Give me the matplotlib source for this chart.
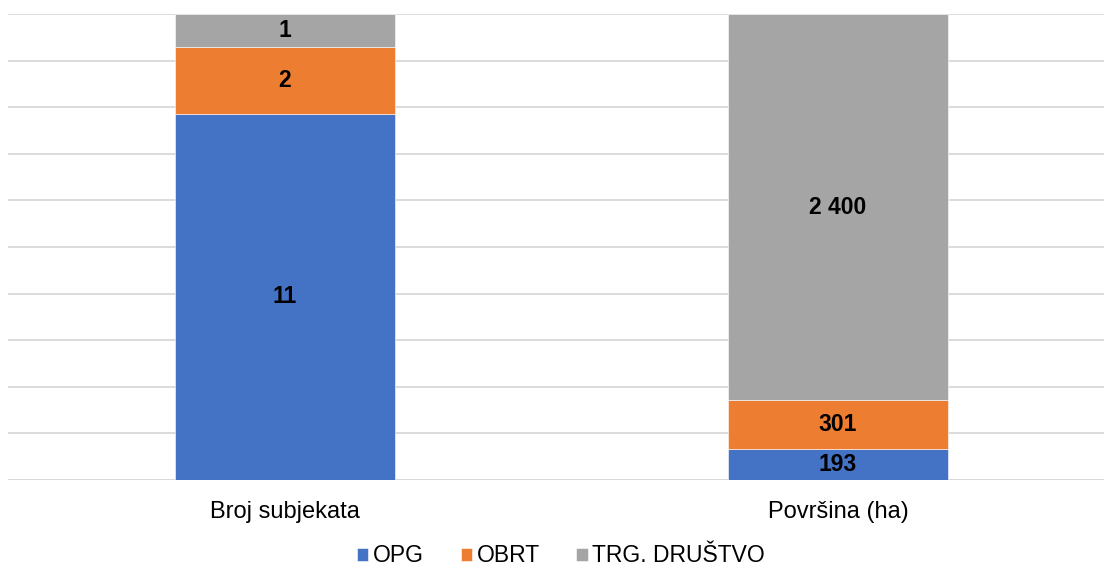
import matplotlib
matplotlib.use("Agg")
import matplotlib.pyplot as plt
import numpy as np

plt.rcParams['font.family'] = ['Liberation Sans', 'DejaVu Sans']

categories = ["Broj subjekata", "Površina (ha)"]
series_names = ["OPG", "OBRT", "TRG. DRUŠTVO"]
opg = [11, 193]
obrt = [2, 301]
trg = [1, 2400]
value_labels = [["11", "193"], ["2", "301"], ["1", "2 400"]]
colors = ["#4472C4", "#ED7D31", "#A5A5A5"]

data = np.array([opg, obrt, trg], dtype=float)
totals = data.sum(axis=0)
pct = data / totals * 100

fig = plt.figure(figsize=(11.04, 5.70), dpi=100)
ax = fig.add_axes([8/1104, 90/570, 1096/1104, 466/570])

x = np.arange(len(categories))
width = 0.398
bottom = np.zeros(len(categories))
for i, name in enumerate(series_names):
    bars = ax.bar(x, pct[i], width, bottom=bottom, color=colors[i], label=name,
                  edgecolor="white", linewidth=0.4, zorder=3)
    for j, b in enumerate(bars):
        ax.text(b.get_x() + b.get_width()/2, bottom[j] + pct[i][j]/2,
                value_labels[i][j], ha="center", va="center",
                fontsize=16.5, fontweight="bold", color="black", zorder=4)
    bottom += pct[i]

ax.set_ylim(0, 100)
ax.set_xlim(-0.501, 1.481)
ax.set_yticks(np.arange(0, 101, 10))
ax.set_yticklabels([])
ax.tick_params(axis="y", length=0)
ax.tick_params(axis="x", length=0, pad=15, labelsize=17)
ax.set_xticks(x)
ax.set_xticklabels(categories)
ax.grid(axis="y", color="#D9D9D9", linewidth=1.3, zorder=0)
for s in ax.spines.values():
    s.set_visible(False)
ax.axhline(0, color="#D9D9D9", linewidth=1.3, zorder=1)

fig.legend(loc="center", bbox_to_anchor=(561/1104, 1 - 556/570), ncol=3,
           frameon=False, fontsize=16.5, handlelength=0.5, handleheight=0.5,
           handletextpad=0.2, columnspacing=1.6)

fig.savefig("out.png", dpi=100)
